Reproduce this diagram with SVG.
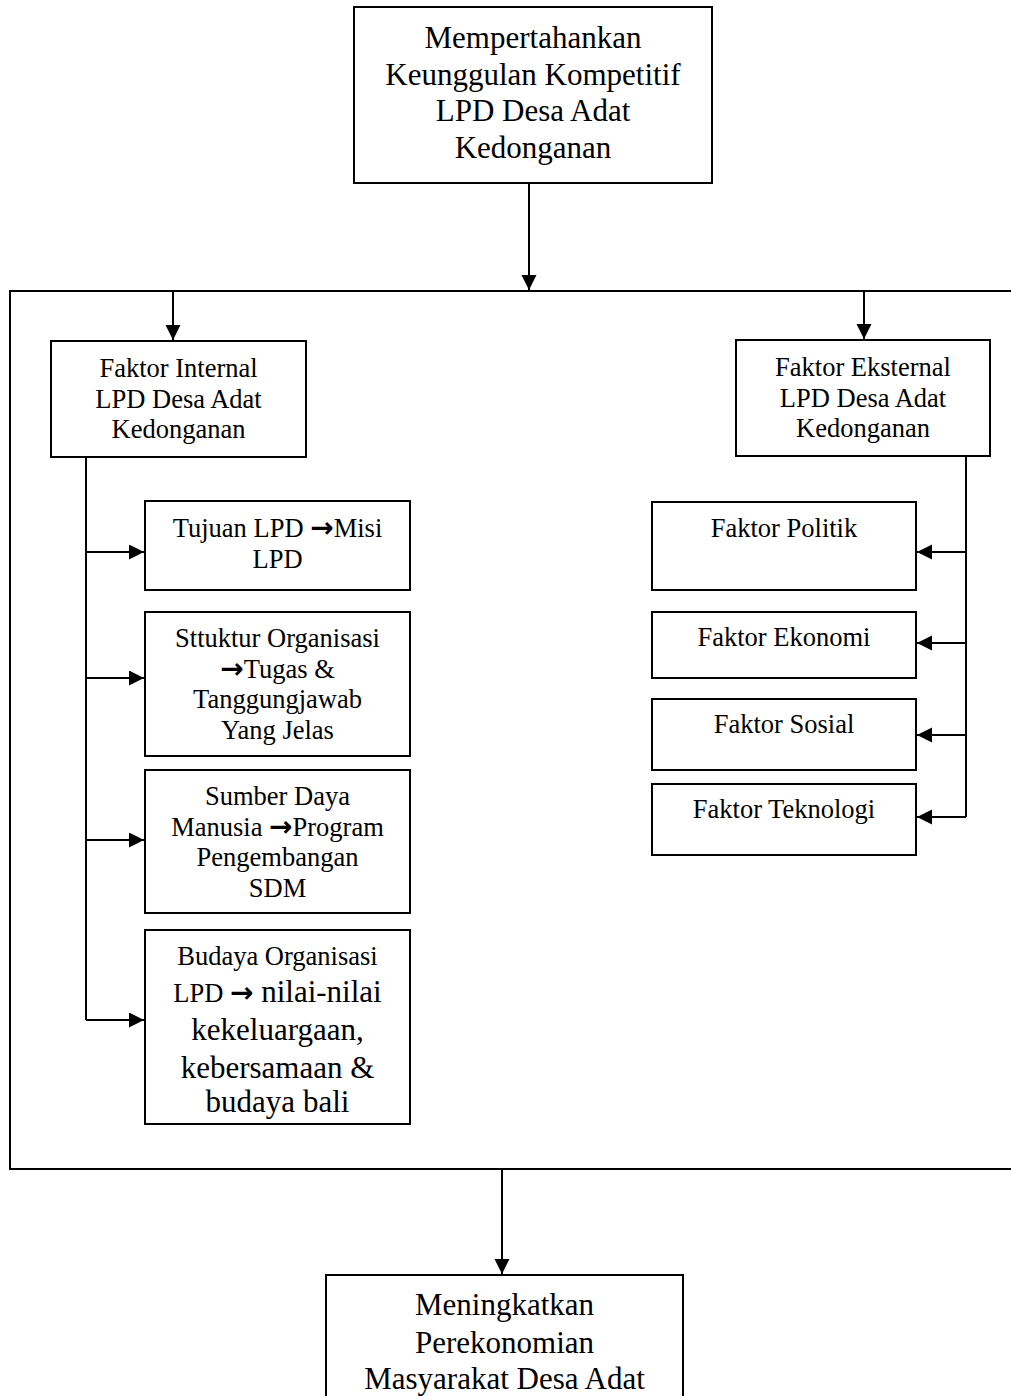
<svg xmlns="http://www.w3.org/2000/svg" width="1011" height="1396" viewBox="0 0 1011 1396">
<style>
.box{fill:#fff;stroke:#000;stroke-width:2}
.ln{fill:none;stroke:#000;stroke-width:2}
.t{font-family:"Liberation Serif","Times New Roman",serif;fill:#000;text-anchor:middle}
.s{font-size:26.5px}
.l{font-size:31px}
.ar{font-family:"DejaVu Sans",sans-serif;font-weight:bold;font-size:28px}
</style>
<defs>
<marker id="ah" markerUnits="userSpaceOnUse" markerWidth="17" markerHeight="16" refX="15" refY="7.5" orient="auto">
<path d="M0,0 L15,7.5 L0,15 Z" fill="#000"/>
</marker>
</defs>
<rect width="1011" height="1396" fill="#fff"/>
<g id="connectors">
<path class="ln" d="M1011,291 H10 V1169 H1011"/>
<path class="ln" d="M529,183 V290" marker-end="url(#ah)"/>
<path class="ln" d="M173,291 V340" marker-end="url(#ah)"/>
<path class="ln" d="M864,291 V339" marker-end="url(#ah)"/>
<path class="ln" d="M502,1169 V1274" marker-end="url(#ah)"/>
<path class="ln" d="M86,457 V1020"/>
<path class="ln" d="M86,552 H144" marker-end="url(#ah)"/>
<path class="ln" d="M86,678 H144" marker-end="url(#ah)"/>
<path class="ln" d="M86,840 H144" marker-end="url(#ah)"/>
<path class="ln" d="M86,1020 H144" marker-end="url(#ah)"/>
<path class="ln" d="M966,456 V817"/>
<path class="ln" d="M966,552 H917" marker-end="url(#ah)"/>
<path class="ln" d="M966,643 H917" marker-end="url(#ah)"/>
<path class="ln" d="M966,735 H917" marker-end="url(#ah)"/>
<path class="ln" d="M966,817 H917" marker-end="url(#ah)"/>
</g>
<g id="top">
<rect class="box" x="354" y="7" width="358" height="176"/>
<text class="t l"><tspan x="533" y="48">Mempertahankan</tspan><tspan x="533" y="84.5">Keunggulan Kompetitif</tspan><tspan x="533" y="121">LPD Desa Adat</tspan><tspan x="533" y="157.5">Kedonganan</tspan></text>
</g>
<g id="internal">
<rect class="box" x="51" y="341" width="255" height="116"/>
<text class="t s"><tspan x="178.5" y="377">Faktor Internal</tspan><tspan x="178.5" y="407.5">LPD Desa Adat</tspan><tspan x="178.5" y="438">Kedonganan</tspan></text>
</g>
<g id="eksternal">
<rect class="box" x="736" y="340" width="254" height="116"/>
<text class="t s"><tspan x="863" y="376">Faktor Eksternal</tspan><tspan x="863" y="406.5">LPD Desa Adat</tspan><tspan x="863" y="437">Kedonganan</tspan></text>
</g>
<g id="tujuan">
<rect class="box" x="145" y="501" width="265" height="89"/>
<text class="t s"><tspan x="277.5" y="537">Tujuan LPD <tspan class="ar">→</tspan>Misi</tspan><tspan x="277.5" y="567.5">LPD</tspan></text>
</g>
<g id="struktur">
<rect class="box" x="145" y="612" width="265" height="144"/>
<text class="t s"><tspan x="277.5" y="647">Sttuktur Organisasi</tspan><tspan x="277.5" y="677.5"><tspan class="ar">→</tspan>Tugas &amp;</tspan><tspan x="277.5" y="708">Tanggungjawab</tspan><tspan x="277.5" y="738.5">Yang Jelas</tspan></text>
</g>
<g id="sdm">
<rect class="box" x="145" y="770" width="265" height="143"/>
<text class="t s"><tspan x="277.5" y="805">Sumber Daya</tspan><tspan x="277.5" y="835.5">Manusia <tspan class="ar">→</tspan>Program</tspan><tspan x="277.5" y="866">Pengembangan</tspan><tspan x="277.5" y="896.5">SDM</tspan></text>
</g>
<g id="budaya">
<rect class="box" x="145" y="930" width="265" height="194"/>
<text class="t s"><tspan x="277.5" y="965">Budaya Organisasi</tspan></text>
<text class="t" x="277.5" y="1002"><tspan class="s">LPD </tspan><tspan class="ar">→</tspan><tspan class="l"> nilai-nilai</tspan></text>
<text class="t l"><tspan x="277.5" y="1040">kekeluargaan,</tspan><tspan x="277.5" y="1078">kebersamaan &amp;</tspan><tspan x="277.5" y="1112">budaya bali</tspan></text>
</g>
<g id="politik">
<rect class="box" x="652" y="502" width="264" height="88"/>
<text class="t s" x="784" y="537">Faktor Politik</text>
</g>
<g id="ekonomi">
<rect class="box" x="652" y="612" width="264" height="66"/>
<text class="t s" x="784" y="646">Faktor Ekonomi</text>
</g>
<g id="sosial">
<rect class="box" x="652" y="699" width="264" height="71"/>
<text class="t s" x="784" y="733">Faktor Sosial</text>
</g>
<g id="teknologi">
<rect class="box" x="652" y="784" width="264" height="71"/>
<text class="t s" x="784" y="818">Faktor Teknologi</text>
</g>
<g id="bottom">
<rect class="box" x="326" y="1275" width="357" height="140"/>
<text class="t l"><tspan x="504.5" y="1315">Meningkatkan</tspan><tspan x="504.5" y="1353">Perekonomian</tspan><tspan x="504.5" y="1389">Masyarakat Desa Adat</tspan></text>
</g>
</svg>
